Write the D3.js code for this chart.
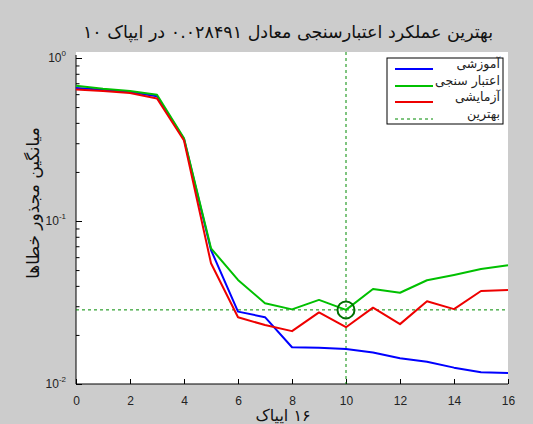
<!DOCTYPE html>
<html><head><meta charset="utf-8">
<script src="https://cdn.jsdelivr.net/npm/d3@7"></script>
<style>
html,body{margin:0;padding:0;background:#cccccc;}
svg{display:block;}
</style></head>
<body>
<script>
// ---- data ----
const epochs = [0,1,2,3,4,5,6,7,8,9,10,11,12,13,14,15,16];
const trainPerf = [0.655,0.638,0.618,0.582,0.318,0.0664,0.0278,0.0257,0.0168,0.0167,0.0164,0.0156,0.0144,0.0137,0.0126,0.0118,0.0117];
const valPerf   = [0.675,0.648,0.628,0.595,0.322,0.068,0.0435,0.0313,0.0287,0.0328,0.028491,0.0383,0.0363,0.0433,0.0467,0.0508,0.0535];
const testPerf  = [0.640,0.628,0.610,0.565,0.312,0.055,0.0257,0.0230,0.0211,0.0275,0.0223,0.0294,0.0233,0.0322,0.0288,0.0372,0.0377];
const bestEpoch = 10;
const bestValue = 0.028491;
const xTicks = [0,2,4,6,8,10,12,14,16];
const yMajor = [1,0.1,0.01];
const yMajorExp = ["0","-1","-2"];
const legendLabels = ["آموزشی","اعتبار سنجی","آزمایشی","بهترین"];
const titleText = "بهترین عملکرد اعتبارسنجی معادل ۰.۰۲۸۴۹۱ در ایپاک ۱۰";
const xLabelText = "۱۶ ایپاک";
const yLabelText = "میانگین مجذور خطاها";

// ---- layout ----
const W = 533, H = 424;
const L = 76, R = 508, T = 58, B = 384;
const svg = d3.select("body").append("svg").attr("width", W).attr("height", H);
svg.append("rect").attr("width", W).attr("height", H).attr("fill", "#cccccc");
svg.append("rect").attr("x", L).attr("y", 52).attr("width", R - L).attr("height", B - 52).attr("fill", "#ffffff");

const x = d3.scaleLinear().domain([0,16]).range([L, R]);
const y = d3.scaleLog().domain([0.01, 1]).range([B, T]);

const numFont = "'Liberation Sans', Arial, sans-serif";
const faFont = "'DejaVu Sans', sans-serif";

// axes lines
svg.append("line").attr("x1", L).attr("x2", L).attr("y1", 55).attr("y2", B).attr("stroke", "#000").attr("stroke-width", 1);
svg.append("line").attr("x1", L).attr("x2", R).attr("y1", B).attr("y2", B).attr("stroke", "#000").attr("stroke-width", 1);

// x ticks (inward)
const xAxis = d3.axisBottom(x).tickValues(xTicks).tickSizeInner(-5).tickSizeOuter(0).tickPadding(12).tickFormat(d3.format("d"));
const gx = svg.append("g").attr("transform", `translate(0,${B})`).call(xAxis);
gx.select(".domain").remove();
gx.selectAll("text").attr("font-family", numFont).attr("font-size", 12).attr("fill", "#222");
gx.selectAll(".tick line").attr("stroke", "#000");

// y ticks: major + minor inward
const minor = [];
for (let e = -2; e < 0; e++) for (let m = 2; m <= 9; m++) minor.push(m * Math.pow(10, e));
const yAxisMinor = d3.axisLeft(y).tickValues(minor).tickSizeInner(-3.5).tickSizeOuter(0).tickFormat("");
const gym = svg.append("g").attr("transform", `translate(${L},0)`).call(yAxisMinor);
gym.select(".domain").remove();
gym.selectAll(".tick line").attr("stroke", "#000");
const yAxisMajor = d3.axisLeft(y).tickValues(yMajor).tickSizeInner(-6).tickSizeOuter(0).tickFormat("");
const gyM = svg.append("g").attr("transform", `translate(${L},0)`).call(yAxisMajor);
gyM.select(".domain").remove();
gyM.selectAll(".tick line").attr("stroke", "#000");
// y tick labels 10^n
yMajor.forEach((v, i) => {
  const t = svg.append("text").attr("x", 66).attr("y", y(v) + 4)
    .attr("text-anchor", "end").attr("font-family", numFont).attr("font-size", 12).attr("fill", "#222");
  t.append("tspan").text("10");
  t.append("tspan").attr("dy", -6).attr("font-size", 8).text(yMajorExp[i]);
});

// best lines
svg.append("line").attr("x1", L).attr("x2", R).attr("y1", y(bestValue)).attr("y2", y(bestValue))
  .attr("stroke", "#008a00").attr("stroke-width", 1).attr("stroke-dasharray", "3,3");
svg.append("line").attr("x1", x(bestEpoch)).attr("x2", x(bestEpoch)).attr("y1", 52).attr("y2", B)
  .attr("stroke", "#008a00").attr("stroke-width", 1).attr("stroke-dasharray", "3,3");

// series
const line = d3.line().x((d, i) => x(epochs[i])).y(d => y(d));
const series = [
  {vals: trainPerf, color: "#0000ff"},
  {vals: valPerf, color: "#00c000"},
  {vals: testPerf, color: "#ee0000"}
];
series.forEach(s => {
  svg.append("path").datum(s.vals).attr("d", line).attr("fill", "none")
    .attr("stroke", s.color).attr("stroke-width", 2).attr("stroke-linejoin", "round");
});

// best circle
svg.append("circle").attr("cx", x(bestEpoch)).attr("cy", y(bestValue)).attr("r", 8.5)
  .attr("fill", "none").attr("stroke", "#007000").attr("stroke-width", 2);

// legend
const lg = svg.append("g");
lg.append("rect").attr("x", 387).attr("y", 58).attr("width", 116).attr("height", 66)
  .attr("fill", "#ffffff").attr("stroke", "#000").attr("stroke-width", 1);
const legColors = ["#0000ff", "#00c000", "#ee0000", "#008a00"];
const legY = [69, 86, 102, 119];
legendLabels.forEach((lab, i) => {
  lg.append("line").attr("x1", 395).attr("x2", 433).attr("y1", legY[i]).attr("y2", legY[i])
    .attr("stroke", legColors[i]).attr("stroke-width", i === 3 ? 1 : 2)
    .attr("stroke-dasharray", i === 3 ? "3,3" : null);
  lg.append("text").attr("x", 500).attr("y", legY[i] - 1).attr("text-anchor", "start")
    .attr("direction", "rtl").attr("font-family", faFont).attr("font-size", 12.5).attr("fill", "#222")
    .text(lab);
});

// title
svg.append("text").attr("x", 288).attr("y", 38).attr("text-anchor", "middle").attr("direction", "rtl")
  .attr("font-family", faFont).attr("font-size", 17.5).attr("fill", "#111").text(titleText);
// x label
svg.append("text").attr("x", 283).attr("y", 421).attr("text-anchor", "middle").attr("direction", "rtl")
  .attr("font-family", faFont).attr("font-size", 16).attr("fill", "#111").text(xLabelText);
// y label
svg.append("text").attr("transform", `translate(39,203) rotate(-90)`).attr("text-anchor", "middle").attr("direction", "rtl")
  .attr("font-family", faFont).attr("font-size", 17).attr("fill", "#111").text(yLabelText);
</script>
</body></html>
